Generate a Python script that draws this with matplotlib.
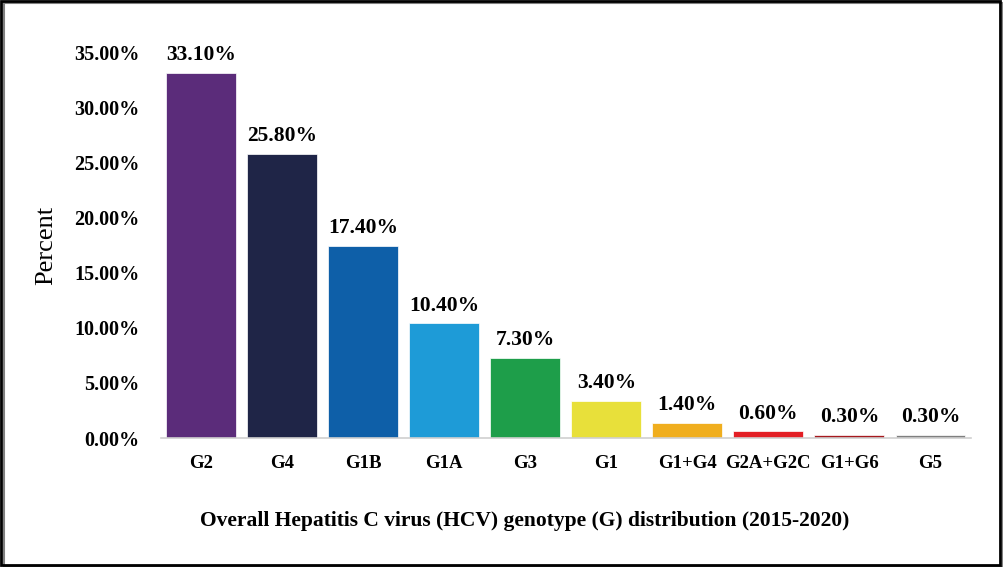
import matplotlib.pyplot as plt
from matplotlib.patches import Rectangle

# HCV genotype distribution
genotypes = ["G2", "G4", "G1B", "G1A", "G3", "G1", "G1+G4", "G2A+G2C", "G1+G6", "G5"]
percents = [33.10, 25.80, 17.40, 10.40, 7.30, 3.40, 1.40, 0.60, 0.30, 0.30]
colors = ["#5b2c7a", "#1f2547", "#0e5fa8", "#1e9bd7", "#1e9e4a",
          "#e8e03a", "#f0ae1e", "#e31e24", "#a6191e", "#7f7f7f"]
yticks = [0, 5, 10, 15, 20, 25, 30, 35]

plt.rcParams['font.family'] = ['Liberation Serif', 'DejaVu Serif']

fig = plt.figure(figsize=(10.04, 5.67), dpi=100)
ax = fig.add_axes([0.16, 0.2275, 0.807, 0.6805])

bars = ax.bar(range(len(genotypes)), percents, width=0.86, color=colors,
              edgecolor="white", linewidth=0.5)
for i, v in enumerate(percents):
    ax.text(i, v + 0.7, f"{v:.2f}%", ha="center", va="bottom",
            fontsize=15.5, fontweight="bold", clip_on=False)

ax.set_xlim(-0.5, len(genotypes) - 0.5)
ax.set_ylim(0, 35)
ax.set_yticks(yticks)
ax.set_yticklabels([f"{t:.2f}%" for t in yticks], fontsize=14.5, fontweight="bold")
ax.set_xticks(range(len(genotypes)))
ax.set_xticklabels(genotypes, fontsize=13.5, fontweight="bold")
ax.tick_params(axis="both", length=0, pad=12)
ax.tick_params(axis="y", pad=15)

for s in ["top", "right", "left"]:
    ax.spines[s].set_visible(False)
ax.spines["bottom"].set_color("#d0d0d0")
ax.spines["bottom"].set_linewidth(1.2)

ax.set_ylabel("Percent", fontsize=19)
ax.yaxis.set_label_coords(-0.128, 0.5)
ax.set_xlabel("Overall Hepatitis C virus (HCV) genotype (G) distribution (2015-2020)",
              fontsize=15.5, fontweight="bold")
ax.xaxis.set_label_coords(0.449, -0.19)

# frame around the whole figure
fig.patches.append(Rectangle((0.001, 0.004), 0.995, 0.994, transform=fig.transFigure,
                             fill=False, edgecolor="black", linewidth=2))
fig.patches.append(Rectangle((0.004, 0.0), 0.995, 0.994, transform=fig.transFigure,
                             fill=False, edgecolor="#808080", linewidth=1.5, zorder=-1))

fig.savefig("out.png", dpi=100)
